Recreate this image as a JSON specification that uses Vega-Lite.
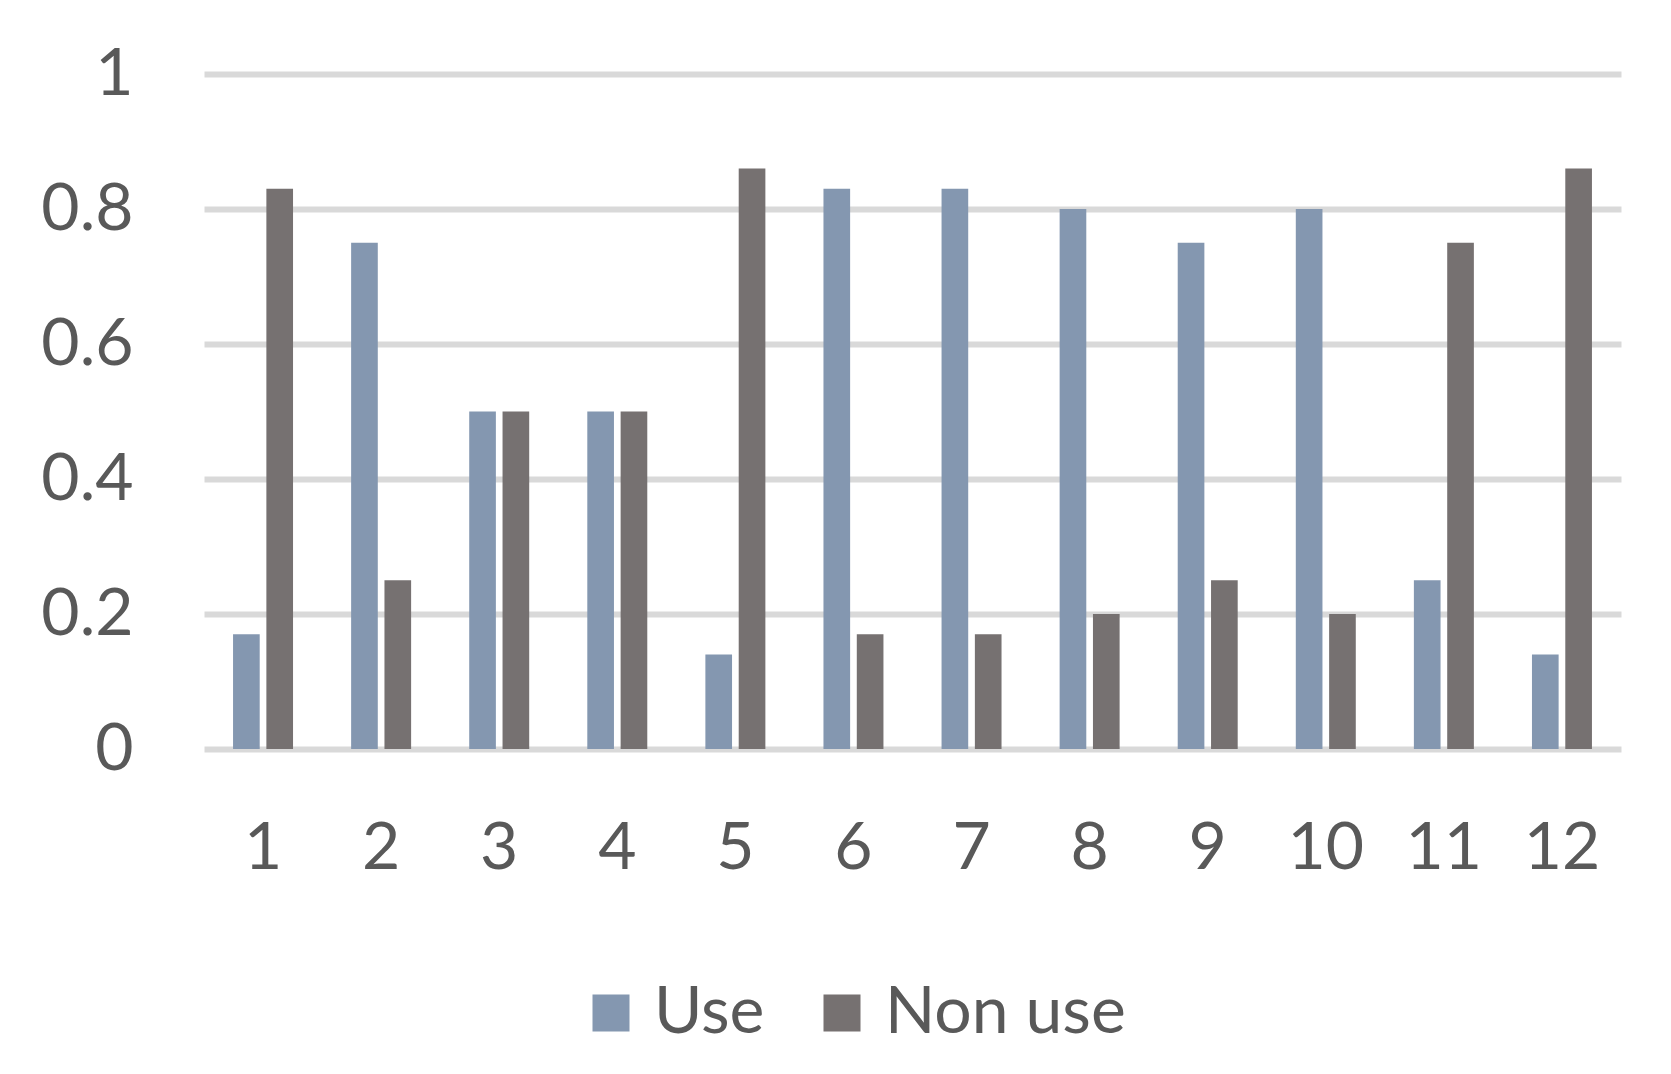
{
  "$schema": "https://vega.github.io/schema/vega-lite/v6.json",
  "width": 1417,
  "height": 675,
  "autosize": {"type": "none"},
  "padding": {"left": 204, "top": 74, "right": 50, "bottom": 325},
  "background": "white",
  "config": {
    "view": {"stroke": null},
    "font": "Lato",
    "axis": {"labelFont": "Lato", "labelColor": "#595959", "labelFontSize": 66}
  },
  "data": {
    "values": [
      {"cat": "1", "series": "Use", "value": 0.17},
      {"cat": "1", "series": "Non use", "value": 0.83},
      {"cat": "2", "series": "Use", "value": 0.75},
      {"cat": "2", "series": "Non use", "value": 0.25},
      {"cat": "3", "series": "Use", "value": 0.5},
      {"cat": "3", "series": "Non use", "value": 0.5},
      {"cat": "4", "series": "Use", "value": 0.5},
      {"cat": "4", "series": "Non use", "value": 0.5},
      {"cat": "5", "series": "Use", "value": 0.14},
      {"cat": "5", "series": "Non use", "value": 0.86},
      {"cat": "6", "series": "Use", "value": 0.83},
      {"cat": "6", "series": "Non use", "value": 0.17},
      {"cat": "7", "series": "Use", "value": 0.83},
      {"cat": "7", "series": "Non use", "value": 0.17},
      {"cat": "8", "series": "Use", "value": 0.8},
      {"cat": "8", "series": "Non use", "value": 0.2},
      {"cat": "9", "series": "Use", "value": 0.75},
      {"cat": "9", "series": "Non use", "value": 0.25},
      {"cat": "10", "series": "Use", "value": 0.8},
      {"cat": "10", "series": "Non use", "value": 0.2},
      {"cat": "11", "series": "Use", "value": 0.25},
      {"cat": "11", "series": "Non use", "value": 0.75},
      {"cat": "12", "series": "Use", "value": 0.14},
      {"cat": "12", "series": "Non use", "value": 0.86}
    ]
  },
  "mark": {"type": "bar"},
  "encoding": {
    "x": {
      "field": "cat",
      "type": "nominal",
      "sort": null,
      "scale": {"paddingInner": 0.492, "paddingOuter": 0.246},
      "axis": {
        "title": null,
        "labelAngle": 0,
        "domain": false,
        "ticks": false,
        "labelPadding": 67,
        "grid": false
      }
    },
    "xOffset": {
      "field": "series",
      "type": "nominal",
      "sort": ["Use", "Non use"],
      "scale": {"paddingInner": 0.2, "paddingOuter": 0}
    },
    "y": {
      "field": "value",
      "type": "quantitative",
      "scale": {"domain": [0, 1], "nice": false},
      "axis": {
        "title": null,
        "values": [0, 0.2, 0.4, 0.6, 0.8, 1],
        "format": "~g",
        "domain": false,
        "ticks": false,
        "labelPadding": 71,
        "grid": true,
        "gridColor": "#D9D9D9",
        "gridWidth": 6,
        "labelBaseline": "middle"
      }
    },
    "color": {
      "field": "series",
      "type": "nominal",
      "sort": ["Use", "Non use"],
      "scale": {"domain": ["Use", "Non use"], "range": ["#8497B0", "#767171"]},
      "legend": {
        "title": null,
        "orient": "none",
        "direction": "horizontal",
        "legendX": 374,
        "legendY": 906,
        "padding": 0,
        "symbolType": "square",
        "symbolSize": 1369,
        "symbolStrokeWidth": 0,
        "labelFont": "Lato",
        "labelFontSize": 66,
        "labelColor": "#595959",
        "labelLimit": 0,
        "labelOffset": 10,
        "columnPadding": 44
      }
    }
  }
}
